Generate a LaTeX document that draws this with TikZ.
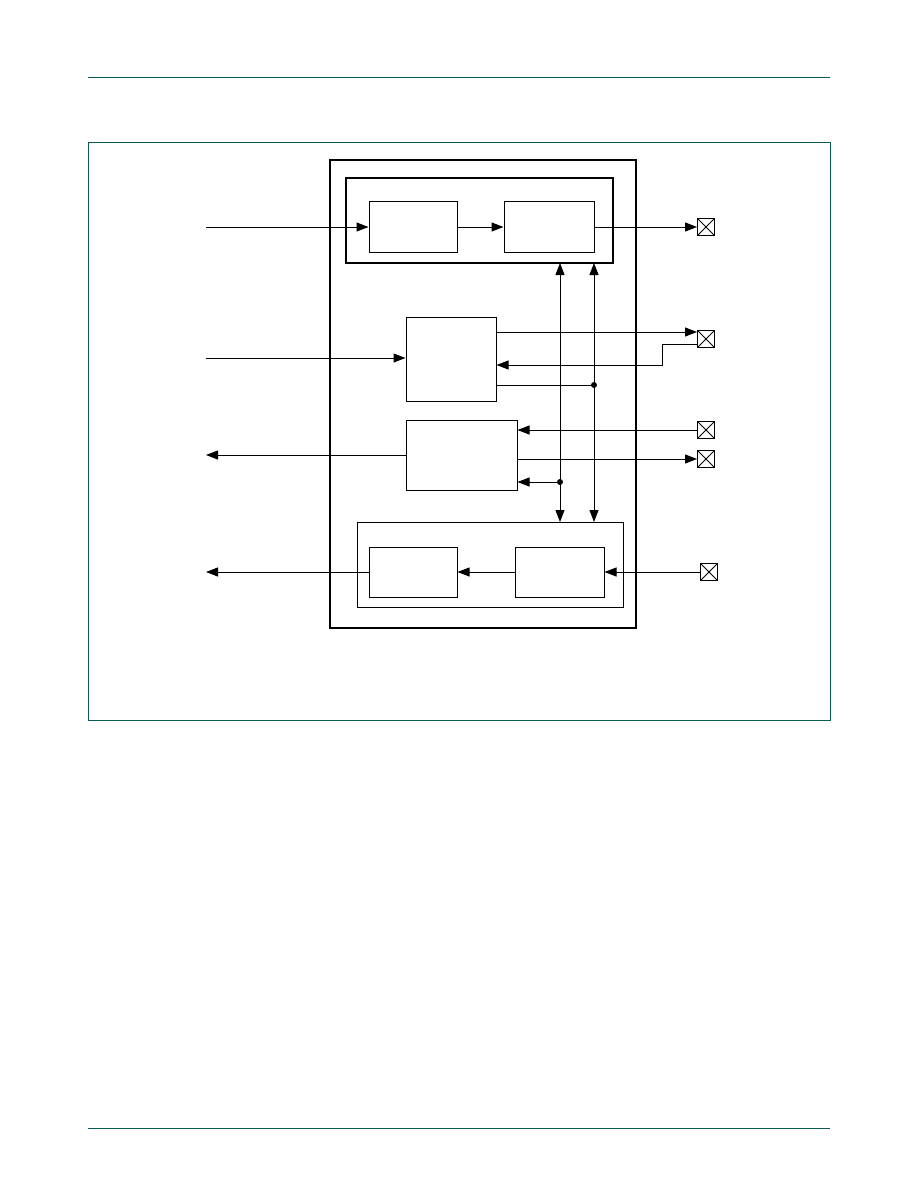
\documentclass[tikz,border=0pt]{standalone}
\usepackage{xcolor}
\usetikzlibrary{positioning,calc,arrows.meta}
\definecolor{rule}{HTML}{0B5A55}

\begin{document}
\begin{tikzpicture}[x=1pt,y=-1pt,
	blk/.style={draw, line width=1pt, minimum width=#1},
	pad/.style={draw, line width=0.9pt, minimum size=17pt, inner sep=0pt,
		path picture={\draw[line width=0.8pt] (path picture bounding box.north west) -- (path picture bounding box.south east)
			(path picture bounding box.south west) -- (path picture bounding box.north east);}},
	sig/.style={line width=1pt, -{Triangle[length=12pt,width=9pt]}},
	dot/.style={circle, fill, inner sep=0pt, minimum size=6pt}]
	\useasboundingbox (0,0) rectangle (918,1188);
	% page rules and frame
	\draw[rule, line width=1pt] (88,78) -- (830,78);
	\draw[rule, line width=1pt] (88,1128) -- (830,1128);
	\draw[rule, line width=0.8pt] (88,142) rectangle (830,720);
	% chip and sub-boxes
	\draw[line width=2pt] (330,160) rectangle (636,628);
	\draw[line width=2pt] (346,178) rectangle (613,263);
	\draw[line width=1pt] (357,522) rectangle (623,607);
	\node[name=a, blk=88pt, minimum height=51pt] at (413,227) {};
	\node[name=b, blk=90pt, minimum height=51pt] at (549,227) {};
	\node[name=c, blk=90pt, minimum height=84pt] at (451,359) {};
	\node[name=d, blk=111pt, minimum height=70pt] at (461.5,455) {};
	\node[name=e, blk=88pt, minimum height=50pt] at (413,572) {};
	\node[name=f, blk=89pt, minimum height=50pt] at (559.5,572) {};
	% pads
	\node[name=p1, pad] at (706,227) {};
	\node[name=p2, pad] at (706,339) {};
	\node[name=p3, pad] at (706,430) {};
	\node[name=p4, pad] at (706,459) {};
	\node[name=p5, pad] at (709,572) {};
	% outer ends
	\coordinate (in1) at (206,227);
	\coordinate (in2) at (206,358);
	\coordinate (out1) at (206,455);
	\coordinate (out2) at (206,572);
	\coordinate (bt1) at (560,263);
	\coordinate (bt2) at (594,263);
	\coordinate (bb1) at (560,522);
	\coordinate (bb2) at (594,522);
	\node[name=j1, dot] at (594,385) {};
	\node[name=j2, dot] at (560,482) {};
	% signals
	\draw[sig] (in1) -- (a.west);
	\draw[sig] (a.east) -- (b.west);
	\draw[sig] (b.east) -- (p1.west);
	\draw[sig] (in2) -- (in2 -| c.west);
	\draw[sig] (c.east |- 0,332) -- (p2.west |- 0,332);
	\draw[sig] (p2.west |- 0,344) -| (662,365) -- (c.east |- 0,365);
	\draw[line width=1pt] (c.east |- j1) -- (j1);
	\draw[sig] (p3.west) -- (p3.west -| d.east);
	\draw[sig] (d.east |- p4) -- (p4.west);
	\draw[sig] (j2) -- (j2 -| d.east);
	\draw[sig] (d.west |- out1) -- (out1);
	\draw[sig] (e.west) -- (out2);
	\draw[sig] (f.west) -- (e.east);
	\draw[sig] (p5.west) -- (f.east);
	% buses
	\draw[sig, {Triangle[length=12pt,width=9pt]}-{Triangle[length=12pt,width=9pt]}] (bt1) -- (bb1);
	\draw[sig, {Triangle[length=12pt,width=9pt]}-{Triangle[length=12pt,width=9pt]}] (bt2) -- (bb2);
\end{tikzpicture}
\end{document}
